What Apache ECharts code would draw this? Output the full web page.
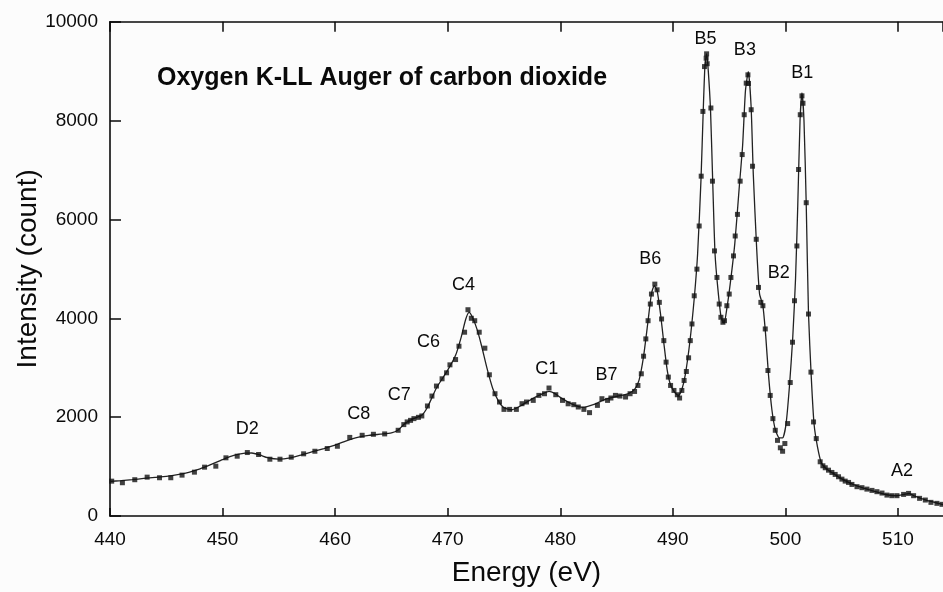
<!DOCTYPE html>
<html>
<head>
<meta charset="utf-8">
<script src="https://cdn.jsdelivr.net/npm/echarts@6/dist/echarts.min.js"></script>
<style>
  html, body { margin: 0; padding: 0; background: #fcfcfc; }
  #chart { width: 943px; height: 592px; }
</style>
</head>
<body>
<div id="chart"></div>
<script>
// Measured O K-LL Auger spectrum of CO2: electron energy (eV) and counts
const measEnergy = [
  440.15, 441.1, 442.2, 443.3, 444.4, 445.4, 446.4, 447.5, 448.4, 449.4,
  450.3, 451.3, 452.2, 453.2, 454.2, 455.1, 456.1, 457.2, 458.2, 459.3,
  460.2, 461.3, 462.4, 463.4, 464.4, 465.6, 466.1, 466.4, 466.7, 467.0,
  467.4, 467.7, 468.2, 468.6, 469.0, 469.5, 469.9, 470.2, 470.7, 471.0,
  471.5, 471.8, 472.1, 472.4, 472.8, 473.3, 473.7, 474.2, 474.6, 475.0,
  475.5, 476.1, 476.6, 477.0, 477.6, 478.1, 478.6, 479.0, 479.6, 480.2,
  480.7, 481.2, 481.6, 482.1, 482.6, 483.3, 483.7, 484.2, 484.5, 484.9,
  485.3, 485.8, 486.2, 486.6, 486.9, 487.2, 487.4, 487.6, 487.8, 488.0,
  488.1, 488.4, 488.6, 488.8, 489.0, 489.2, 489.4, 489.6, 489.8, 490.1,
  490.4, 490.6, 490.8, 491.0, 491.2, 491.4, 491.55, 491.7, 491.9, 492.14,
  492.34, 492.52, 492.67, 492.81, 492.96, 493.0, 493.05, 493.38, 493.52, 493.7,
  493.92, 494.12, 494.27, 494.45, 494.59, 494.8, 495.01, 495.16, 495.39, 495.54,
  495.74, 495.98, 496.16, 496.34, 496.52, 496.67, 496.72, 496.96, 497.08, 497.41,
  497.61, 497.82, 498.0, 498.21, 498.45, 498.65, 498.89, 499.1, 499.3, 499.55,
  499.75, 499.95, 500.2, 500.43, 500.63, 500.81, 501.02, 501.17, 501.32, 501.47,
  501.56, 501.85, 502.05, 502.27, 502.5, 502.74, 503.09, 503.33, 503.54, 503.83,
  504.13, 504.42, 504.72, 505.02, 505.31, 505.61, 505.91, 506.36, 506.8, 507.24,
  507.69, 508.13, 508.58, 509.02, 509.46, 509.91, 510.5, 510.94, 511.39, 511.92,
  512.43, 512.93, 513.46, 513.91
];
const measCounts = [
  705, 673, 734, 786, 774, 774, 827, 887, 988, 1008,
  1177, 1210, 1284, 1244, 1149, 1149, 1190, 1258, 1310, 1365,
  1411, 1590, 1633, 1653, 1661, 1734, 1849, 1903, 1935, 1970,
  1996, 2024, 2226, 2427, 2629, 2776, 2897, 3058, 3165, 3435,
  3718, 4173, 4000, 3951, 3718, 3395, 2857, 2474, 2306, 2157,
  2157, 2157, 2272, 2306, 2339, 2440, 2474, 2589, 2454, 2339,
  2270, 2252, 2205, 2157, 2091, 2238, 2373, 2339, 2387, 2440,
  2427, 2407, 2474, 2520, 2641, 2877, 3233, 3583, 3951, 4288,
  4490, 4691, 4576, 4322, 3986, 3548, 3113, 2810, 2641, 2540,
  2453, 2387, 2540, 2742, 2923, 3200, 3548, 3885, 4455, 4994,
  5867, 6875, 8185, 9092, 9261, 9350, 9150, 8254, 6774, 5363,
  4826, 4288, 4020, 3919, 3951, 4254, 4490, 4826, 5262, 5665,
  6102, 6774, 7312, 8118, 8757, 8925, 8750, 8219, 7076, 5598,
  4624, 4322, 4254, 3784, 2943, 2439, 1970, 1734, 1530, 1380,
  1310, 1466, 1870, 2700, 3516, 4355, 5463, 7010, 8118, 8500,
  8350, 6338, 4086, 2911, 1903, 1566, 1097, 1016, 976, 927,
  881, 841, 794, 746, 706, 679, 639, 593, 573, 544,
  518, 492, 464, 423, 411, 411, 437, 457, 411, 357,
  323, 276, 256, 236
];

// Fitted curve through the spectrum
const fitEnergy = [
  440, 441, 442, 443, 444, 445, 446, 447, 448, 449,
  450, 451, 452, 452.6, 453.3, 454, 455, 456, 457, 458,
  459, 460, 461, 462, 463, 464, 465, 465.6, 466.2, 467,
  467.7, 468.2, 469, 470, 470.7, 471.2, 471.6, 471.9, 472.2, 472.6,
  473, 473.5, 474, 474.5, 475, 475.7, 476.5, 477.5, 478.5, 479,
  479.5, 480, 481, 482, 483, 484, 485, 486, 486.6, 487,
  487.4, 487.8, 488.1, 488.35, 488.6, 488.9, 489.2, 489.5, 489.8, 490.2,
  490.5, 490.8, 491.1, 491.5, 491.9, 492.2, 492.5, 492.7, 492.85, 493.0,
  493.15, 493.35, 493.55, 493.75, 494.0, 494.3, 494.55, 494.8, 495.1, 495.5,
  495.9, 496.2, 496.45, 496.7, 496.95, 497.15, 497.45, 497.7, 498.0, 498.25,
  498.5, 498.8, 499.1, 499.45, 499.75, 500.05, 500.35, 500.65, 500.9, 501.1,
  501.3, 501.47, 501.65, 501.85, 502.05, 502.3, 502.55, 502.85, 503.2, 503.6,
  504.2, 505, 506, 507, 508, 509, 509.9, 510.6, 511, 511.5,
  512.5, 514
];
const fitCounts = [
  700, 715, 735, 760, 780, 800, 835, 885, 955, 1045,
  1140, 1225, 1270, 1275, 1235, 1180, 1150, 1175, 1235, 1300,
  1365, 1435, 1520, 1590, 1630, 1655, 1680, 1740, 1870, 1975,
  2040, 2200, 2590, 2950, 3250, 3620, 3980, 4120, 4020, 3780,
  3450, 2980, 2580, 2330, 2190, 2150, 2230, 2370, 2480, 2520,
  2480, 2400, 2270, 2200, 2260, 2360, 2420, 2470, 2560, 2750,
  3230, 3950, 4500, 4660, 4560, 4100, 3500, 2950, 2650, 2490,
  2440, 2560, 2850, 3500, 4400, 5300, 6800, 8200, 9100, 9350,
  9000, 8200, 6700, 5300, 4600, 4000, 3900, 4200, 4700, 5500,
  6650, 7500, 8600, 8990, 8300, 6900, 5400, 4500, 4250, 3650,
  2850, 2150, 1750, 1580, 1580, 1850, 2600, 3600, 4800, 6300,
  8000, 8560, 8000, 6300, 4100, 2800, 1850, 1400, 1070, 960,
  870, 750, 640, 560, 495, 430, 410, 440, 455, 400,
  320, 230
];

// Peak assignments and where their labels sit (eV, counts)
const peakNames = ['D2', 'C8', 'C7', 'C6', 'C4', 'C1', 'B7', 'B6', 'B5', 'B3', 'B1', 'B2', 'A2'];
const peakLabelE = [452.2, 462.1, 465.7, 468.3, 471.4, 478.8, 484.1, 488.0, 492.9, 496.4, 501.5, 499.4, 510.35];
const peakLabelI = [1768, 2070, 2439, 3516, 4671, 2978, 2857, 5195, 9645, 9429, 8971, 4907, 907];

const xMin = 440, xMax = 514, xStep = 10;
const yMin = 0, yMax = 10000, yStep = 2000;

const ink = '#0a0a0a';
const font = '"Liberation Sans", Arial, sans-serif';

const zip = (a, b) => a.map((v, i) => [v, b[i]]);

const chart = echarts.init(document.getElementById('chart'), null, { renderer: 'canvas' });

chart.setOption({
  backgroundColor: '#fcfcfc',
  animation: false,
  title: {
    text: 'Oxygen K-LL Auger of carbon dioxide',
    left: 152,
    top: 61,
    textStyle: { fontFamily: font, fontSize: 25, fontWeight: 'bold', color: ink }
  },
  grid: { left: 110, right: 0, top: 21.7, bottom: 74.3, containLabel: false },
  xAxis: [
    {
      type: 'value', min: xMin, max: xMax, interval: xStep, position: 'bottom',
      name: 'Energy (eV)', nameLocation: 'middle', nameGap: 43, nameMoveOverlap: false,
      nameTextStyle: { fontFamily: font, fontSize: 28, color: ink },
      axisLine: { show: true, onZero: false, lineStyle: { color: ink, width: 1.6 } },
      axisTick: { show: true, inside: true, length: 8, lineStyle: { color: ink, width: 1.5 } },
      axisLabel: { fontFamily: font, fontSize: 19, color: ink, margin: 14, showMaxLabel: false },
      splitLine: { show: false }
    },
    {
      type: 'value', min: xMin, max: xMax, interval: xStep, position: 'top',
      axisLine: { show: true, onZero: false, lineStyle: { color: ink, width: 1.6 } },
      axisTick: { show: true, inside: true, length: 10, lineStyle: { color: ink, width: 1.5 } },
      axisLabel: { show: false },
      splitLine: { show: false }
    }
  ],
  yAxis: {
    type: 'value', min: yMin, max: yMax, interval: yStep,
    name: 'Intensity (count)', nameLocation: 'middle', nameGap: 68, nameMoveOverlap: false,
    nameTextStyle: { fontFamily: font, fontSize: 28, color: ink },
    axisLine: { show: true, onZero: false, lineStyle: { color: ink, width: 1.6 } },
    axisTick: { show: true, inside: true, length: 11, lineStyle: { color: ink, width: 1.5 } },
    axisLabel: { fontFamily: font, fontSize: 19, color: ink, margin: 12, formatter: (v) => String(v) },
    splitLine: { show: false }
  },
  series: [
    {
      name: 'fit',
      type: 'line',
      xAxisIndex: 0,
      data: zip(fitEnergy, fitCounts),
      smooth: 0.2,
      showSymbol: false,
      lineStyle: { color: '#222', width: 1.3 },
      z: 2
    },
    {
      name: 'measured',
      type: 'scatter',
      xAxisIndex: 0,
      data: zip(measEnergy, measCounts),
      symbol: 'rect',
      symbolSize: 5,
      itemStyle: { color: '#111' },
      z: 3
    },
    {
      name: 'peaks',
      type: 'scatter',
      xAxisIndex: 0,
      data: peakNames.map((n, i) => ({ name: n, value: [peakLabelE[i], peakLabelI[i]] })),
      symbolSize: 0,
      silent: true,
      itemStyle: { color: ink, opacity: 1 },
      label: {
        show: true, position: 'inside', formatter: '{b}',
        fontFamily: font, fontSize: 18, color: ink, opacity: 1
      },
      z: 4
    }
  ]
});
</script>
</body>
</html>
